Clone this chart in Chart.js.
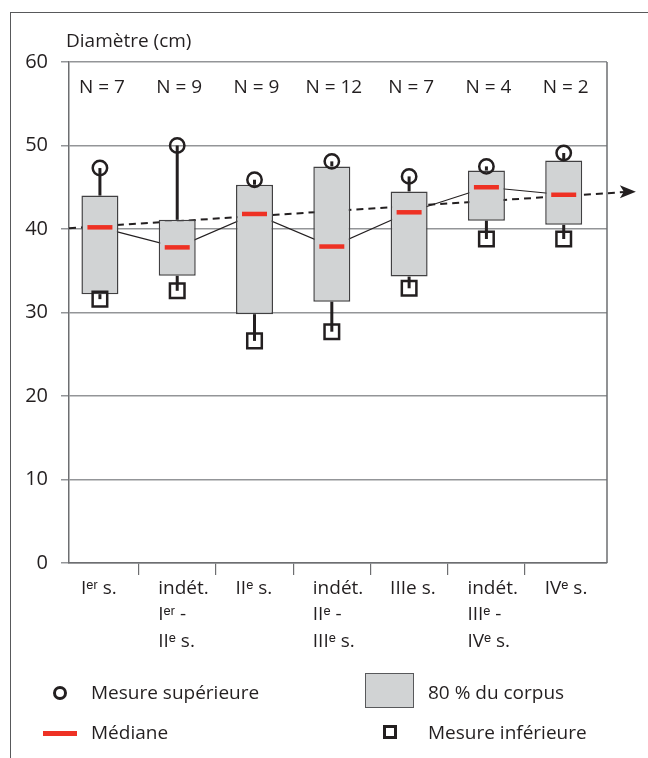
<!DOCTYPE html>
<html><head><meta charset="utf-8">
<script src="https://cdn.jsdelivr.net/npm/chart.js@4"></script>
<style>
html,body{margin:0;padding:0;background:#fff;}
#wrap{position:relative;width:648px;height:758px;overflow:hidden;font-family:"Open Sans",sans-serif;color:#231f20;}
canvas{position:absolute;left:0;top:0;}
#frame{position:absolute;left:10px;top:12px;width:700px;height:800px;border-left:1.5px solid #58595b;border-top:1.5px solid #58595b;}
.t{position:absolute;font-size:19px;line-height:1;white-space:nowrap;}
.sym{position:absolute;box-sizing:border-box;}
</style></head><body>
<div id="wrap">
<div id="frame"></div>
<canvas id="c" width="648" height="758"></canvas>
<div class="t" style="left:66px;top:31px;">Diamètre (cm)</div>
<div class="sym" style="left:53px;top:686px;width:14px;height:14px;border:3px solid #231f20;border-radius:50%;"></div>
<div class="t" style="left:91px;top:683px;">Mesure supérieure</div>
<div class="sym" style="left:43px;top:731px;width:34px;height:5px;background:#ee3124;"></div>
<div class="t" style="left:91px;top:723px;">Médiane</div>
<div class="sym" style="left:365px;top:673px;width:49px;height:35px;background:#d1d3d4;border:1.5px solid #58595b;"></div>
<div class="t" style="left:428px;top:683px;">80 % du corpus</div>
<div class="sym" style="left:383px;top:725px;width:14px;height:14px;border:3px solid #231f20;"></div>
<div class="t" style="left:428px;top:723px;">Mesure inférieure</div>
</div>
<script>
const categories = [
  ["Iᵉʳ s."],
  ["indét.", "Iᵉʳ -", "IIᵉ s."],
  ["IIᵉ s."],
  ["indét.", "IIᵉ -", "IIIᵉ s."],
  ["IIIe s."],
  ["indét.", "IIIᵉ -", "IVᵉ s."],
  ["IVᵉ s."]
];
const counts = [7, 9, 9, 12, 7, 4, 2];
const upperValues = [47.3, 50.0, 45.9, 48.1, 46.3, 47.5, 49.1];
const boxTop = [44.0, 41.1, 45.3, 47.5, 44.5, 47.0, 48.2];
const medians = [40.2, 37.8, 41.8, 37.9, 42.0, 45.0, 44.1];
const boxBottom = [32.2, 34.4, 29.8, 31.3, 34.3, 41.0, 40.5];
const lowerValues = [31.6, 32.6, 26.6, 27.7, 32.9, 38.8, 38.8];
const trendX = [-0.4, 6.83];
const trendY = [40.1, 44.45];
const yTicks = [0, 10, 20, 30, 40, 50, 60];

const FONT = '"Open Sans", sans-serif';
const INK = '#231f20';
const idx = categories.map((_, i) => i);

const decor = {
  id: 'decor',
  afterDraw(chart) {
    const {ctx, chartArea: a, scales} = chart;
    ctx.save();
    ctx.strokeStyle = '#6d6e71';
    ctx.lineWidth = 1.5;
    ctx.beginPath();
    ctx.moveTo(a.right, a.top);
    ctx.lineTo(a.right, a.bottom);
    ctx.stroke();
    // arrow head at the end of the trend line
    const meta = chart.getDatasetMeta(0);
    const p = meta.data[meta.data.length - 1];
    ctx.fillStyle = INK;
    ctx.beginPath();
    ctx.moveTo(p.x + 8, p.y);
    ctx.lineTo(p.x - 8, p.y - 6.5);
    ctx.lineTo(p.x - 4, p.y);
    ctx.lineTo(p.x - 8, p.y + 6.5);
    ctx.closePath();
    ctx.fill();
    ctx.font = '19px ' + FONT;
    ctx.textAlign = 'center';
    ctx.textBaseline = 'middle';
    counts.forEach((n, i) => {
      ctx.fillText('N = ' + n, scales.x.getPixelForValue(i) + 2, a.top + 26);
    });
    ctx.restore();
  }
};

new Chart(document.getElementById('c'), {
  type: 'bar',
  data: {
    datasets: [
      {
        type: 'line', order: 10, clip: false,
        data: trendX.map((x, i) => ({x, y: trendY[i]})),
        borderColor: INK, borderWidth: 2, borderDash: [7, 5], pointRadius: 0
      },
      {
        type: 'line', order: 9,
        data: idx.map(i => ({x: i, y: medians[i]})),
        borderColor: INK, borderWidth: 1.2, pointRadius: 0
      },
      {
        order: 8, grouped: false, maxBarThickness: 3,
        data: idx.map(i => ({x: i, y: [boxTop[i], upperValues[i]]})),
        backgroundColor: INK, borderWidth: 0
      },
      {
        order: 8, grouped: false, maxBarThickness: 3,
        data: idx.map(i => ({x: i, y: [lowerValues[i], boxBottom[i]]})),
        backgroundColor: INK, borderWidth: 0
      },
      {
        order: 7, grouped: false, maxBarThickness: 37,
        data: idx.map(i => ({x: i, y: [boxBottom[i], boxTop[i]]})),
        backgroundColor: '#d1d3d4', borderColor: '#414042', borderWidth: 1.5, borderSkipped: false
      },
      {
        type: 'line', order: 3, showLine: false,
        data: idx.map(i => ({x: i, y: medians[i]})),
        pointStyle: 'line', pointRadius: 12.5, pointBorderWidth: 4.5, pointBorderColor: '#ee3124'
      },
      {
        type: 'line', order: 2, showLine: false,
        data: idx.map(i => ({x: i, y: upperValues[i]})),
        pointStyle: 'circle', pointRadius: 7.2, pointBorderWidth: 2.5,
        pointBorderColor: INK, pointBackgroundColor: 'rgba(0,0,0,0)'
      },
      {
        type: 'line', order: 2, showLine: false,
        data: idx.map(i => ({x: i, y: lowerValues[i]})),
        pointStyle: 'rect', pointRadius: 10.3, pointBorderWidth: 2.5,
        pointBorderColor: INK, pointBackgroundColor: 'rgba(0,0,0,0)'
      }
    ]
  },
  options: {
    responsive: false,
    animation: false,
    events: [],
    layout: {padding: {left: 0, top: 62, right: 41, bottom: 95}},
    plugins: {legend: {display: false}, tooltip: {enabled: false}},
    scales: {
      x: {
        type: 'linear', min: -0.4, max: 6.56, offset: false,
        afterBuildTicks(s) { s.ticks = idx.map(v => ({value: v})); },
        afterFit(s) { s.height = 100; },
        grid: {
          offset: true, drawOnChartArea: false, drawTicks: true, tickLength: 12,
          lineWidth: 1.2,
          color: c => c.type === 'tick' ? '#6d6e71' : 'rgba(0,0,0,0)'
        },
        border: {display: true, color: '#6d6e71', width: 1.5},
        ticks: {
          autoSkip: false, maxRotation: 0, minRotation: 0,
          align: 'start', labelOffset: -19, padding: 0,
          color: INK, font: {family: FONT, size: 19, lineHeight: 1.4},
          callback: v => categories[v]
        }
      },
      y: {
        min: 0, max: 60,
        afterBuildTicks(s) { s.ticks = yTicks.map(v => ({value: v})); },
        afterFit(s) { s.width = 69; },
        grid: {color: '#939598', lineWidth: 1.5, drawTicks: true, tickLength: 8},
        border: {display: true, color: '#6d6e71', width: 1.5},
        ticks: {color: INK, padding: 13, font: {family: FONT, size: 20}}
      }
    }
  },
  plugins: [decor]
});
</script>
</body></html>
